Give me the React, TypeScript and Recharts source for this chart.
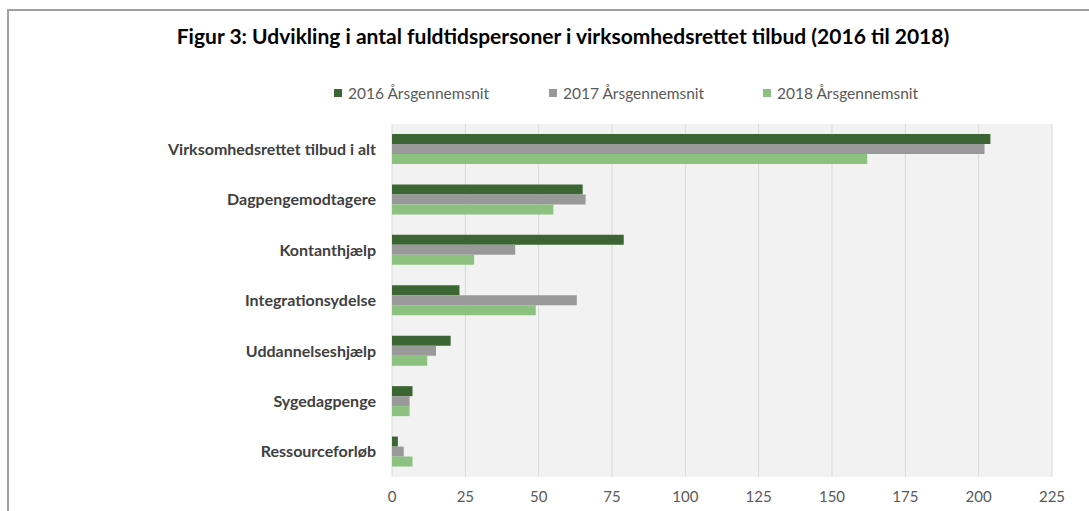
import React from 'react';
import { BarChart, Bar, XAxis, YAxis, CartesianGrid } from 'recharts';

const categories = [
  'Virksomhedsrettet tilbud i alt',
  'Dagpengemodtagere',
  'Kontanthjælp',
  'Integrationsydelse',
  'Uddannelseshjælp',
  'Sygedagpenge',
  'Ressourceforløb',
];
const values2016 = [204, 65, 79, 23, 20, 7, 2];
const values2017 = [202, 66, 42, 63, 15, 6, 4];
const values2018 = [162, 55, 28, 49, 12, 6, 7];
const xTicks = [0, 25, 50, 75, 100, 125, 150, 175, 200, 225];

const series = [
  { key: 'y2016', name: '2016 Årsgennemsnit', color: '#3b6532' },
  { key: 'y2017', name: '2017 Årsgennemsnit', color: '#999999' },
  { key: 'y2018', name: '2018 Årsgennemsnit', color: '#8cc17f' },
];

const data = categories.map((name, i) => ({
  name,
  y2016: values2016[i],
  y2017: values2017[i],
  y2018: values2018[i],
}));

const FONT = 'Lato, "Open Sans", sans-serif';

// legend item x positions (square left edge)
const legendX = [334, 549, 763];

export default function App() {
  return (
    <div style={{ position: 'absolute', left: 0, top: 0, width: 1089, height: 511, background: '#fff', overflow: 'hidden' }}>
      <div
        style={{
          position: 'absolute',
          left: 7,
          top: 9,
          width: 1200,
          height: 600,
          borderLeft: '2px solid #a0a0a0',
          borderTop: '2px solid #a0a0a0',
        }}
      />
      <div
        style={{
          position: 'absolute',
          top: 23,
          left: 0,
          width: 1126,
          textAlign: 'center',
          fontFamily: FONT,
          fontWeight: 700,
          fontSize: 21,
          color: '#000',
        }}
      >
        Figur 3: Udvikling i antal fuldtidspersoner i virksomhedsrettet tilbud (2016 til 2018)
      </div>
      {series.map((s, i) => (
        <div
          key={s.key}
          style={{ position: 'absolute', left: legendX[i], top: 84, display: 'flex', alignItems: 'center', whiteSpace: 'nowrap' }}
        >
          <span style={{ width: 8, height: 8, background: s.color, display: 'inline-block', marginRight: 6 }} />
          <span style={{ fontSize: 15.5, color: '#595959', fontFamily: FONT }}>{s.name}</span>
        </div>
      ))}
      <div style={{ position: 'absolute', left: 0, top: 0 }}>
        <BarChart
          width={1089}
          height={511}
          data={data}
          layout="vertical"
          margin={{ top: 124, right: 37, bottom: 0, left: 0 }}
          barGap={0}
          barCategoryGap="20%"
        >
          <CartesianGrid horizontal={false} stroke="#d9d9d9" fill="#f2f2f2" />
          <XAxis
            type="number"
            domain={[0, 225]}
            ticks={xTicks}
            axisLine={false}
            tickLine={false}
            height={34}
            tickSize={0}
            tickMargin={14}
            tick={{ fill: '#595959', fontSize: 15, fontFamily: FONT }}
          />
          <YAxis
            type="category"
            dataKey="name"
            width={392}
            axisLine={false}
            tickLine={false}
            tickSize={0}
            tickMargin={16}
            tick={{ fill: '#404040', fontSize: 16, fontWeight: 700, fontFamily: FONT }}
          />
          {series.map((s) => (
            <Bar key={s.key} dataKey={s.key} name={s.name} fill={s.color} barSize={10} isAnimationActive={false} />
          ))}
        </BarChart>
      </div>
    </div>
  );
}
